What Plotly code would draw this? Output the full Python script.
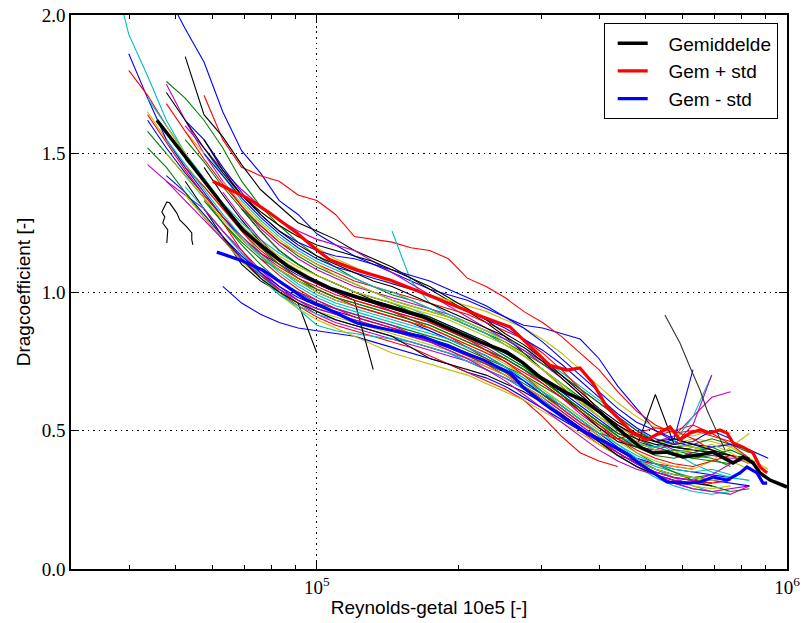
import plotly.graph_objects as go

# ---------------- data ----------------
# Reynolds-number grid used by the individual runs (log-spaced readings)
RE_GRID = [30200, 33110, 36310, 39810, 43650, 47860, 52480, 57540, 63100, 69180,
           75860, 83180, 91200, 100000, 109600, 120200, 131800, 144500, 158500, 173800,
           190500, 208900, 229100, 251200, 275400, 302000, 331100, 363100, 398100, 436500,
           478600, 524800, 575400, 631000, 691800, 758600, 831800, 912000, 1000000]

# each run: (index of first grid point, drag coefficients)
BLUE_RUNS = [
    (5, [2.08, 1.95, 1.83, 1.65, 1.51, 1.43, 1.33, 1.28, 1.21, 1.17, 1.13, 1.10, 1.07, 1.04, 1.01,
         0.99, 0.97, 0.94, 0.91, 0.88, 0.87, 0.85, 0.83, 0.76, 0.66, 0.58, 0.50, 0.46, 0.44, 0.42]),
    (3, [1.86, 1.70, 1.55, 1.45, 1.36, 1.27, 1.19, 1.13, 1.08, 1.04, 1.00, 0.97, 0.95, 0.93, 0.91,
         0.89, 0.86, 0.83, 0.80, 0.77, 0.73, 0.68, 0.63, 0.59, 0.54, 0.49, 0.44, 0.40, 0.38, 0.36,
         0.35, 0.34, 0.33]),
    (8, [1.02, 0.96, 0.92, 0.89, 0.87, 0.86, 0.85, 0.84, 0.82, 0.80, 0.78, 0.76, 0.74, 0.71, 0.69,
         0.66, 0.62, 0.58, 0.54, 0.50, 0.46, 0.42, 0.38, 0.35, 0.33, 0.32, 0.31]),
    (4, [1.62, 1.52, 1.43, 1.35, 1.27, 1.20, 1.14, 1.10, 1.06, 1.03, 1.00, 0.98, 0.96, 0.94, 0.92,
         0.90, 0.87, 0.84, 0.81, 0.78, 0.74, 0.69, 0.64, 0.59, 0.54, 0.49, 0.46, 0.44, 0.47, 0.72]),
    (6, [1.62, 1.55, 1.45, 1.36, 1.28, 1.22, 1.18, 1.15, 1.13, 1.12, 1.10, 1.08, 1.06, 1.04, 1.01,
         0.98, 0.95, 0.91, 0.87, 0.82, 0.76, 0.70, 0.64, 0.58, 0.53, 0.50, 0.47, 0.45, 0.44, 0.45,
         0.43, 0.40]),
    (5, [1.42, 1.36, 1.28, 1.20, 1.13, 1.07, 1.02, 0.98, 0.95, 0.93, 0.91, 0.89, 0.87, 0.85, 0.83,
         0.81, 0.78, 0.75, 0.72, 0.68, 0.63, 0.58, 0.53, 0.48, 0.43, 0.39, 0.36, 0.34, 0.33, 0.32,
         0.31, 0.30]),
    (7, [1.50, 1.42, 1.34, 1.27, 1.21, 1.16, 1.12, 1.09, 1.07, 1.05, 1.03, 1.01, 0.99, 0.96, 0.93,
         0.90, 0.87, 0.83, 0.79, 0.74, 0.68, 0.62, 0.56, 0.51, 0.47, 0.45, 0.46, 0.50, 0.47]),
]
GREEN_RUNS = [
    (5, [1.76, 1.70, 1.62, 1.52, 1.40, 1.31, 1.24, 1.18, 1.13, 1.09, 1.05, 1.02, 0.99, 0.97, 0.94,
         0.91, 0.88, 0.85, 0.81, 0.77, 0.72, 0.67, 0.62, 0.57, 0.52, 0.47, 0.44, 0.42, 0.40, 0.39,
         0.38]),
    (4, [1.58, 1.50, 1.42, 1.34, 1.25, 1.18, 1.12, 1.08, 1.04, 1.01, 0.98, 0.96, 0.94, 0.92, 0.90,
         0.88, 0.85, 0.82, 0.79, 0.76, 0.72, 0.68, 0.63, 0.58, 0.53, 0.48, 0.44, 0.42, 0.43, 0.41,
         0.40, 0.37]),
    (7, [1.33, 1.25, 1.17, 1.10, 1.04, 1.00, 0.96, 0.94, 0.92, 0.90, 0.88, 0.86, 0.84, 0.82, 0.79,
         0.76, 0.73, 0.70, 0.66, 0.62, 0.57, 0.52, 0.47, 0.42, 0.38, 0.35, 0.32, 0.30, 0.28, 0.29]),
    (6, [1.55, 1.47, 1.38, 1.30, 1.24, 1.18, 1.13, 1.09, 1.06, 1.03, 1.00, 0.97, 0.95, 0.93, 0.91,
         0.88, 0.85, 0.82, 0.78, 0.74, 0.70, 0.65, 0.60, 0.55, 0.50, 0.46, 0.44, 0.45, 0.47, 0.45,
         0.42]),
    (9, [1.30, 1.22, 1.15, 1.10, 1.06, 1.03, 1.00, 0.98, 0.96, 0.93, 0.90, 0.87, 0.84, 0.81, 0.77,
         0.73, 0.68, 0.63, 0.58, 0.53, 0.49, 0.46, 0.43, 0.41, 0.40, 0.41, 0.43, 0.40]),
    (4, [1.52, 1.45, 1.36, 1.27, 1.19, 1.12, 1.06, 1.01, 0.97, 0.94, 0.92, 0.90, 0.88, 0.86, 0.84,
         0.82, 0.80, 0.77, 0.74, 0.71, 0.67, 0.63, 0.58, 0.53, 0.48, 0.43, 0.39, 0.36, 0.34, 0.33,
         0.34]),
    (6, [1.48, 1.40, 1.31, 1.23, 1.16, 1.10, 1.05, 1.01, 0.98, 0.96, 0.94, 0.92, 0.90, 0.88, 0.85,
         0.82, 0.79, 0.76, 0.72, 0.68, 0.63, 0.58, 0.53, 0.48, 0.44, 0.41, 0.40, 0.42, 0.44, 0.41]),
]
RED_RUNS = [
    (7, [1.71, 1.55, 1.45, 1.42, 1.40, 1.35, 1.33, 1.28, 1.20, 1.19, 1.18, 1.16, 1.15, 1.12, 1.05,
         1.02, 0.98, 0.93, 0.89, 0.84, 0.78, 0.72, 0.64, 0.57, 0.52, 0.49, 0.50, 0.48, 0.46]),
    (3, [1.80, 1.71, 1.60, 1.50, 1.40, 1.31, 1.23, 1.16, 1.11, 1.07, 1.03, 1.00, 0.97, 0.95, 0.93,
         0.90, 0.87, 0.84, 0.80, 0.76, 0.71, 0.66, 0.60, 0.55, 0.50, 0.45, 0.41, 0.39, 0.38, 0.37,
         0.36]),
    (8, [1.25, 1.15, 1.07, 1.00, 0.95, 0.91, 0.88, 0.86, 0.84, 0.82, 0.80, 0.77, 0.74, 0.71, 0.68,
         0.65, 0.61, 0.55, 0.48, 0.42, 0.39, 0.37]),
    (5, [1.68, 1.58, 1.48, 1.39, 1.31, 1.24, 1.18, 1.14, 1.10, 1.07, 1.04, 1.02, 1.00, 0.98, 0.96,
         0.94, 0.92, 0.89, 0.86, 0.83, 0.78, 0.72, 0.65, 0.57, 0.50, 0.46, 0.48, 0.50, 0.52, 0.49,
         0.45, 0.40]),
    (6, [1.45, 1.38, 1.30, 1.22, 1.15, 1.10, 1.05, 1.01, 0.98, 0.95, 0.93, 0.91, 0.89, 0.87, 0.84,
         0.81, 0.78, 0.75, 0.71, 0.67, 0.62, 0.57, 0.52, 0.47, 0.43, 0.40, 0.38, 0.37, 0.39, 0.41,
         0.38]),
    (10, [1.12, 1.06, 1.01, 0.97, 0.94, 0.91, 0.89, 0.87, 0.85, 0.83, 0.80, 0.77, 0.74, 0.70, 0.66,
          0.61, 0.56, 0.51, 0.46, 0.42, 0.38, 0.35, 0.33, 0.32, 0.31, 0.32]),
    (4, [1.64, 1.54, 1.44, 1.35, 1.27, 1.20, 1.14, 1.09, 1.05, 1.02, 0.99, 0.97, 0.95, 0.93, 0.91,
         0.89, 0.86, 0.83, 0.79, 0.75, 0.70, 0.64, 0.58, 0.53, 0.49, 0.47, 0.49, 0.51, 0.50, 0.47,
         0.43]),
]
CYAN_RUNS = [
    (2, [2.20, 1.93, 1.78, 1.62, 1.50, 1.41, 1.31, 1.22, 1.14, 1.08, 1.03, 0.99, 0.96, 0.94, 0.92,
         0.90, 0.88, 0.86, 0.83, 0.80, 0.77, 0.73, 0.69, 0.64, 0.59, 0.54, 0.49, 0.44, 0.40, 0.37,
         0.35, 0.33, 0.32]),
    (17, [1.22, 1.04, 0.96, 0.92, 0.89, 0.86, 0.83, 0.80, 0.76, 0.71, 0.66, 0.61, 0.56, 0.51, 0.46,
          0.42, 0.38, 0.35, 0.33, 0.32]),
    (6, [1.38, 1.30, 1.22, 1.14, 1.06, 1.00, 0.94, 0.88, 0.86, 0.85, 0.84, 0.83, 0.82, 0.80, 0.78,
         0.76, 0.74, 0.71, 0.68, 0.64, 0.60, 0.55, 0.50, 0.45, 0.40, 0.36, 0.33, 0.30, 0.28, 0.27]),
    (4, [1.70, 1.60, 1.50, 1.41, 1.32, 1.25, 1.19, 1.14, 1.10, 1.06, 1.03, 1.00, 0.98, 0.96, 0.94,
         0.91, 0.88, 0.85, 0.81, 0.77, 0.73, 0.68, 0.63, 0.58, 0.53, 0.48, 0.45, 0.44, 0.46, 0.55,
         0.70]),
    (7, [1.52, 1.42, 1.33, 1.26, 1.20, 1.15, 1.11, 1.08, 1.05, 1.02, 1.00, 0.97, 0.94, 0.91, 0.88,
         0.85, 0.81, 0.77, 0.72, 0.67, 0.61, 0.55, 0.50, 0.46, 0.43, 0.42, 0.44, 0.43, 0.41]),
    (9, [1.12, 1.05, 0.99, 0.95, 0.92, 0.90, 0.88, 0.86, 0.84, 0.82, 0.80, 0.78, 0.75, 0.72, 0.69,
         0.65, 0.61, 0.56, 0.51, 0.46, 0.41, 0.37, 0.33, 0.30, 0.28, 0.27, 0.28]),
    (5, [1.55, 1.46, 1.37, 1.28, 1.20, 1.13, 1.07, 1.02, 0.98, 0.95, 0.93, 0.91, 0.89, 0.87, 0.85,
         0.83, 0.80, 0.77, 0.73, 0.69, 0.64, 0.59, 0.54, 0.49, 0.45, 0.41, 0.38, 0.36, 0.35, 0.36,
         0.34]),
]
MAGENTA_RUNS = [
    (5, [1.75, 1.62, 1.50, 1.40, 1.31, 1.23, 1.17, 1.12, 1.08, 1.05, 1.02, 1.00, 0.98, 0.96, 0.94,
         0.92, 0.89, 0.86, 0.83, 0.79, 0.75, 0.70, 0.65, 0.60, 0.55, 0.50, 0.46, 0.43, 0.42, 0.41,
         0.40, 0.40]),
    (5, [1.40, 1.35, 1.30, 1.22, 1.14, 1.07, 1.01, 0.96, 0.92, 0.89, 0.87, 0.85, 0.83, 0.81, 0.79,
         0.77, 0.75, 0.72, 0.69, 0.66, 0.62, 0.57, 0.52, 0.47, 0.42, 0.38, 0.34, 0.31, 0.29, 0.28,
         0.29, 0.30]),
    (6, [1.60, 1.52, 1.44, 1.37, 1.31, 1.26, 1.22, 1.19, 1.17, 1.15, 1.11, 1.07, 1.03, 0.99, 0.95,
         0.91, 0.87, 0.83, 0.79, 0.74, 0.69, 0.63, 0.57, 0.52, 0.48, 0.46, 0.48, 0.55, 0.62, 0.64]),
    (8, [1.36, 1.27, 1.19, 1.12, 1.07, 1.03, 1.00, 0.98, 0.96, 0.93, 0.91, 0.89, 0.86, 0.83, 0.80,
         0.76, 0.72, 0.67, 0.62, 0.56, 0.51, 0.47, 0.44, 0.43, 0.45, 0.52, 0.70]),
    (7, [1.30, 1.22, 1.15, 1.08, 1.02, 0.97, 0.93, 0.90, 0.88, 0.86, 0.84, 0.82, 0.80, 0.78, 0.75,
         0.72, 0.69, 0.65, 0.61, 0.56, 0.51, 0.46, 0.41, 0.37, 0.34, 0.31, 0.29, 0.28, 0.27, 0.30]),
    (12, [1.00, 0.97, 0.94, 0.92, 0.90, 0.88, 0.85, 0.82, 0.79, 0.76, 0.73, 0.70, 0.66, 0.62, 0.57,
          0.52, 0.47, 0.42, 0.38, 0.35, 0.33, 0.32, 0.34, 0.38, 0.40]),
    (4, [1.46, 1.40, 1.33, 1.26, 1.19, 1.12, 1.06, 1.01, 0.97, 0.94, 0.92, 0.90, 0.88, 0.86, 0.84,
         0.82, 0.79, 0.76, 0.72, 0.68, 0.63, 0.58, 0.53, 0.48, 0.43, 0.39, 0.36, 0.34, 0.32, 0.31]),
]
YELLOW_RUNS = [
    (4, [1.65, 1.55, 1.46, 1.38, 1.30, 1.23, 1.17, 1.12, 1.08, 1.04, 1.01, 0.98, 0.96, 0.94, 0.92,
         0.89, 0.86, 0.83, 0.80, 0.76, 0.72, 0.67, 0.62, 0.57, 0.52, 0.48, 0.45, 0.44, 0.45, 0.47,
         0.46, 0.44, 0.40, 0.36]),
    (6, [1.58, 1.50, 1.42, 1.35, 1.29, 1.24, 1.20, 1.16, 1.12, 1.09, 1.06, 1.03, 1.01, 0.99, 0.97,
         0.95, 0.93, 0.90, 0.87, 0.83, 0.78, 0.72, 0.66, 0.60, 0.55, 0.51, 0.49, 0.48, 0.50, 0.49]),
    (7, [1.28, 1.20, 1.12, 1.05, 0.99, 0.94, 0.90, 0.87, 0.84, 0.81, 0.78, 0.76, 0.74, 0.72, 0.70,
         0.67, 0.64, 0.61, 0.57, 0.53, 0.49, 0.45, 0.41, 0.37, 0.34, 0.32, 0.30, 0.29, 0.30]),
    (5, [1.50, 1.42, 1.34, 1.26, 1.19, 1.13, 1.08, 1.04, 1.00, 0.97, 0.95, 0.93, 0.91, 0.89, 0.87,
         0.84, 0.81, 0.78, 0.74, 0.70, 0.65, 0.60, 0.55, 0.50, 0.46, 0.42, 0.39, 0.37, 0.36, 0.39,
         0.44, 0.49]),
    (8, [1.40, 1.32, 1.25, 1.19, 1.14, 1.10, 1.06, 1.03, 1.00, 0.97, 0.95, 0.93, 0.91, 0.89, 0.86,
         0.82, 0.77, 0.72, 0.66, 0.60, 0.55, 0.51, 0.48, 0.46, 0.45, 0.44, 0.42, 0.39, 0.36]),
    (6, [1.35, 1.27, 1.19, 1.11, 1.05, 1.00, 0.96, 0.93, 0.91, 0.89, 0.87, 0.85, 0.83, 0.81, 0.79,
         0.76, 0.73, 0.70, 0.66, 0.62, 0.58, 0.53, 0.48, 0.43, 0.39, 0.36, 0.34, 0.33, 0.32, 0.33]),
    (5, [1.60, 1.50, 1.40, 1.31, 1.24, 1.18, 1.13, 1.09, 1.06, 1.03, 1.00, 0.98, 0.96, 0.94, 0.92,
         0.90, 0.87, 0.84, 0.81, 0.77, 0.72, 0.67, 0.61, 0.55, 0.50, 0.46, 0.43, 0.42, 0.43, 0.45,
         0.42, 0.38]),
]
BLACK_RUNS = [
    (6, [1.85, 1.64, 1.56, 1.46, 1.37, 1.31, 1.25, 1.22, 1.19, 1.15, 1.12, 1.09, 1.05, 1.01, 0.97,
         0.93, 0.89, 0.84, 0.78, 0.72, 0.66, 0.60, 0.55, 0.50, 0.47, 0.45, 0.44, 0.43]),
    (6, [1.40, 1.30, 1.20, 1.10, 1.04, 1.00, 0.96, 0.78]),
    (7, [1.45, 1.35, 1.26, 1.18, 1.12, 1.07, 1.03, 1.00, 0.97, 0.72]),
    (9, [1.30, 1.22, 1.15, 1.10, 1.06, 1.03, 1.00, 0.97, 0.95, 0.93, 0.91, 0.88, 0.85, 0.82, 0.78,
         0.74, 0.69, 0.63, 0.57, 0.51, 0.46, 0.44, 0.63, 0.45]),
    (5, [1.72, 1.62, 1.52, 1.43, 1.35, 1.29, 1.24, 1.20, 1.17, 1.15, 1.13, 1.11, 1.08, 1.05, 1.02,
         0.98, 0.94, 0.90, 0.85, 0.81, 0.76, 0.70, 0.64, 0.58, 0.53, 0.49, 0.46, 0.44, 0.43, 0.42,
         0.41, 0.40]),
    (8, [1.20, 1.12, 1.05, 1.00, 0.96, 0.93, 0.90, 0.88, 0.86, 0.84, 0.80, 0.76, 0.74, 0.72, 0.70,
         0.67, 0.64, 0.60, 0.56, 0.51, 0.46, 0.41, 0.37, 0.34, 0.32, 0.31, 0.30]),
    (7, [1.55, 1.44, 1.35, 1.28, 1.22, 1.17, 1.13, 1.10, 1.07, 1.04, 1.02, 0.99, 0.96, 0.93, 0.90,
         0.87, 0.84, 0.80, 0.75, 0.69, 0.63, 0.57, 0.52, 0.48, 0.46, 0.47, 0.45, 0.43, 0.41]),
]
# two irregular black runs read point by point
K_WIGGLE_RE = [47960, 48190, 47020, 47490, 46800, 47960, 48660, 50360, 51100, 52890, 54200, 54200, 54500]
K_WIGGLE_CD = [1.177, 1.224, 1.249, 1.271, 1.289, 1.325, 1.321, 1.285, 1.260, 1.235, 1.213, 1.188, 1.170]
K_SPIKE_RE = [550000, 592000, 621700, 653000, 675800, 709800, 738000]
K_SPIKE_CD = [0.917, 0.816, 0.729, 0.646, 0.574, 0.491, 0.430]

# mean and mean +/- std
MEAN_RE = [45700, 51100, 58300, 64300, 69600, 76800, 86400, 95200, 106600, 121600,
           143000, 168100, 198600, 222300, 253700, 274400, 298200, 340300, 368100, 400000,
           434800, 486600, 518700, 555600, 600700, 653000, 696100, 730800, 767700, 806200,
           846900, 876200, 920100, 1000000]
MEAN_CD = [1.62, 1.513, 1.39, 1.296, 1.224, 1.162, 1.095, 1.054, 1.014, 0.982,
           0.946, 0.910, 0.856, 0.82, 0.783, 0.744, 0.693, 0.635, 0.61, 0.566,
           0.51, 0.44, 0.419, 0.422, 0.404, 0.412, 0.422, 0.404, 0.383, 0.404,
           0.383, 0.347, 0.321, 0.296]
PLUS_RE = [60080, 71000, 79430, 90680, 100000, 106600, 121600, 143000, 168100, 198600,
           225600, 257400, 279800, 313100, 340300, 362700, 386600, 414000, 441200, 470300,
           503800, 536800, 563800, 592000, 621800, 653000, 685800, 720000, 745300, 767700,
           806200, 846900, 876200, 907300]
PLUS_CD = [1.40, 1.34, 1.285, 1.213, 1.152, 1.116, 1.079, 1.043, 0.996, 0.946,
           0.910, 0.874, 0.816, 0.735, 0.718, 0.726, 0.671, 0.585, 0.538, 0.49,
           0.466, 0.491, 0.513, 0.466, 0.491, 0.502, 0.491, 0.502, 0.491, 0.455,
           0.44, 0.419, 0.368, 0.347]
MINUS_RE = [61270, 68600, 76800, 86400, 95200, 106600, 121600, 143000, 168100, 198600,
            225600, 257400, 274400, 302600, 340300, 375400, 414000, 456600, 486600, 555600,
            612900, 653000, 696100, 745300, 794300, 821900, 863500, 889000, 907300]
MINUS_CD = [1.144, 1.116, 1.079, 1.018, 0.971, 0.935, 0.888, 0.863, 0.838, 0.791,
            0.755, 0.708, 0.657, 0.599, 0.538, 0.491, 0.455, 0.415, 0.38, 0.314,
            0.31, 0.314, 0.332, 0.321, 0.347, 0.368, 0.347, 0.31, 0.31]

LEGEND_NAMES = ["Gemiddelde", "Gem + std", "Gem - std"]
X_TICKS = [1e5, 1e6]
X_TICK_TEXT = ["10<sup>5</sup>", "10<sup>6</sup>"]
X_MINOR = [4e4, 5e4, 6e4, 7e4, 8e4, 9e4, 2e5, 3e5, 4e5, 5e5, 6e5, 7e5, 8e5, 9e5]
Y_TICKS = [0.0, 0.5, 1.0, 1.5, 2.0]

# ---------------- figure ----------------
GROUPS = [(BLUE_RUNS, "#0000ff"), (GREEN_RUNS, "#008000"), (RED_RUNS, "#ff0000"),
          (CYAN_RUNS, "#00bfbf"), (MAGENTA_RUNS, "#bf00bf"), (YELLOW_RUNS, "#bfbf00"),
          (BLACK_RUNS, "#000000")]

fig = go.Figure()
for i in range(7):
    for runs, col in GROUPS:
        start, cd = runs[i]
        fig.add_trace(go.Scatter(x=RE_GRID[start:start + len(cd)], y=cd, mode="lines",
                                 line=dict(color=col, width=1.1), showlegend=False,
                                 hoverinfo="skip"))
fig.add_trace(go.Scatter(x=K_WIGGLE_RE, y=K_WIGGLE_CD, mode="lines",
                         line=dict(color="#000000", width=1.1), showlegend=False))
fig.add_trace(go.Scatter(x=K_SPIKE_RE, y=K_SPIKE_CD, mode="lines",
                         line=dict(color="#333333", width=1.1), showlegend=False))

PAD = "\u00a0\u00a0\u00a0"
fig.add_trace(go.Scatter(x=MEAN_RE, y=MEAN_CD, mode="lines", name=PAD + LEGEND_NAMES[0],
                         line=dict(color="#000000", width=3.5)))
fig.add_trace(go.Scatter(x=PLUS_RE, y=PLUS_CD, mode="lines", name=PAD + LEGEND_NAMES[1],
                         line=dict(color="#ff0000", width=3.2)))
fig.add_trace(go.Scatter(x=MINUS_RE, y=MINUS_CD, mode="lines", name=PAD + LEGEND_NAMES[2],
                         line=dict(color="#0000ff", width=3.2)))

serif = dict(family="Liberation Serif", size=19, color="black")
sans = dict(family="Liberation Sans", size=19, color="black")
GRID_DASH = "1.5px,4px"

fig.update_layout(
    width=801, height=623,
    margin=dict(l=71, r=14, t=15, b=54, autoexpand=False),
    paper_bgcolor="white", plot_bgcolor="white",
    showlegend=True,
    legend=dict(x=0.987, y=0.985, xanchor="right", yanchor="top",
                bgcolor="white", bordercolor="black", borderwidth=1,
                font=sans, itemwidth=30, indentation=8, tracegroupgap=0),
    xaxis=dict(type="log", range=[4.4771, 6.0], tickmode="array", tickvals=X_TICKS,
               ticktext=X_TICK_TEXT, tickfont=serif, ticks="inside", ticklen=8,
               tickcolor="black", tickwidth=1, showline=True, linecolor="black",
               linewidth=1.5, mirror="allticks", showgrid=True, gridcolor="black",
               griddash=GRID_DASH, gridwidth=1, zeroline=False, automargin=False,
               minor=dict(tickmode="array", tickvals=X_MINOR, ticks="inside", ticklen=4,
                          tickcolor="black", tickwidth=1, showgrid=False),
               title=dict(text="Reynolds-getal 10e5 [-]", font=sans, standoff=4)),
    yaxis=dict(range=[0, 2.0], tickmode="array", tickvals=Y_TICKS, tickformat=".1f",
               tickfont=serif, ticks="inside", ticklen=8, tickcolor="black", tickwidth=1,
               showline=True, linecolor="black", linewidth=1.5, mirror="allticks",
               showgrid=True, gridcolor="black", griddash=GRID_DASH, gridwidth=1,
               zeroline=False, automargin=False,
               title=dict(text="Dragcoefficient [-]", font=sans, standoff=6)),
)

fig.write_html("out.html")
